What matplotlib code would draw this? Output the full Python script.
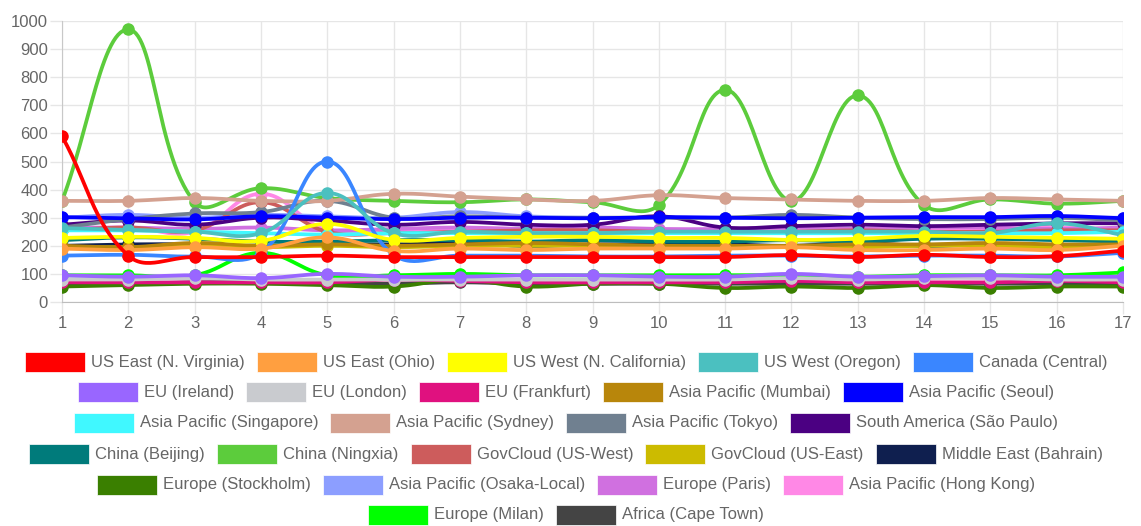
import numpy as np
import matplotlib
matplotlib.use("Agg")
import matplotlib.pyplot as plt
from matplotlib.patches import Rectangle

plt.rcParams['font.family'] = ['Liberation Sans', 'DejaVu Sans']

x_labels = list(range(1, 18))

# values per region
us_east_1 = [590, 165, 160, 160, 165, 160, 160, 160, 160, 160, 160, 167, 160, 168, 160, 163, 183]
us_east_2 = [190, 185, 195, 190, 230, 182, 190, 185, 190, 190, 190, 195, 185, 185, 190, 185, 200]
us_west_1 = [228, 232, 228, 218, 278, 221, 228, 232, 232, 228, 228, 221, 225, 235, 232, 228, 225]
us_west_2 = [263, 256, 250, 245, 388, 245, 250, 245, 245, 250, 250, 250, 250, 250, 245, 280, 238]
ca_central = [165, 168, 162, 175, 500, 168, 165, 165, 162, 162, 165, 165, 162, 165, 165, 162, 175]
eu_ireland = [95, 90, 95, 85, 100, 90, 90, 95, 95, 90, 90, 100, 90, 92, 95, 90, 90]
eu_london = [80, 80, 85, 80, 80, 80, 80, 80, 80, 80, 80, 85, 80, 85, 85, 80, 80]
eu_frankfurt = [70, 70, 70, 70, 70, 80, 75, 70, 70, 70, 70, 75, 70, 70, 70, 75, 70]
ap_mumbai = [200, 195, 210, 200, 205, 200, 205, 210, 205, 200, 200, 200, 205, 205, 210, 205, 205]
ap_seoul = [302, 298, 294, 305, 300, 295, 300, 300, 298, 302, 300, 298, 300, 302, 302, 306, 298]
ap_singapore = [255, 255, 250, 245, 240, 245, 245, 245, 245, 245, 245, 245, 245, 245, 245, 245, 250]
ap_sydney = [360, 360, 370, 360, 360, 385, 375, 365, 360, 380, 370, 365, 360, 360, 370, 365, 360]
ap_tokyo = [265, 295, 315, 320, 360, 300, 305, 300, 300, 300, 300, 310, 300, 295, 295, 300, 290]
sa_saopaulo = [275, 290, 275, 300, 290, 275, 285, 275, 275, 305, 265, 270, 275, 270, 275, 280, 280]
cn_beijing = [220, 230, 225, 215, 215, 220, 220, 215, 220, 215, 215, 220, 215, 225, 225, 220, 215]
cn_ningxia = [360, 970, 355, 405, 370, 360, 355, 365, 355, 345, 755, 360, 735, 345, 365, 350, 360]
gov_west = [255, 265, 255, 355, 250, 245, 250, 255, 255, 250, 250, 250, 255, 250, 250, 255, 255]
gov_east = [195, 195, 200, 195, 200, 195, 200, 200, 200, 195, 195, 200, 195, 200, 200, 195, 200]
me_bahrain = [200, 205, 205, 200, 205, 205, 210, 200, 205, 205, 205, 200, 210, 200, 205, 200, 205]
eu_stockholm = [55, 60, 65, 65, 60, 55, 80, 55, 65, 65, 50, 55, 50, 60, 50, 55, 55]
ap_osaka = [300, 310, 300, 310, 305, 300, 320, 305, 300, 300, 300, 300, 300, 300, 300, 300, 300]
eu_paris = [265, 265, 260, 265, 255, 260, 265, 260, 265, 260, 260, 265, 260, 265, 265, 260, 265]
ap_hongkong = [255, 265, 250, 385, 255, 250, 260, 260, 255, 250, 255, 260, 260, 255, 255, 265, 255]
eu_milan = [95, 95, 95, 175, 95, 95, 100, 95, 95, 95, 95, 95, 90, 95, 95, 95, 105]
af_capetown = [65, 65, 70, 70, 65, 65, 70, 65, 65, 65, 65, 65, 65, 65, 65, 65, 65]

names = ['US East (N. Virginia)', 'US East (Ohio)', 'US West (N. California)', 'US West (Oregon)',
         'Canada (Central)', 'EU (Ireland)', 'EU (London)', 'EU (Frankfurt)', 'Asia Pacific (Mumbai)',
         'Asia Pacific (Seoul)', 'Asia Pacific (Singapore)', 'Asia Pacific (Sydney)',
         'Asia Pacific (Tokyo)', 'South America (São Paulo)', 'China (Beijing)', 'China (Ningxia)',
         'GovCloud (US-West)', 'GovCloud (US-East)', 'Middle East (Bahrain)', 'Europe (Stockholm)',
         'Asia Pacific (Osaka-Local)', 'Europe (Paris)', 'Asia Pacific (Hong Kong)', 'Europe (Milan)',
         'Africa (Cape Town)']
series = [us_east_1, us_east_2, us_west_1, us_west_2, ca_central, eu_ireland, eu_london,
          eu_frankfurt, ap_mumbai, ap_seoul, ap_singapore, ap_sydney, ap_tokyo, sa_saopaulo,
          cn_beijing, cn_ningxia, gov_west, gov_east, me_bahrain, eu_stockholm, ap_osaka,
          eu_paris, ap_hongkong, eu_milan, af_capetown]
colors = ['#ff0000', '#ff9f40', '#ffff00', '#4bc0c0', '#3a86ff', '#9966ff', '#c9cbcf',
          '#e0117f', '#b8860b', '#0000ff', '#40f8ff', '#d4a190', '#708090', '#4b0082',
          '#007b7b', '#5ccc3c', '#cd5c5c', '#ccbb00', '#0f1f4f', '#3a7f00', '#8c9eff',
          '#d070e0', '#ff88e6', '#00ff00', '#444444']
legend_rows = [5, 5, 4, 5, 4, 2]

W, H = 1141, 526
fig = plt.figure(figsize=(W / 100, H / 100), dpi=100)
ax = fig.add_axes([62 / W, 1 - 302 / H, (1123 - 62) / W, (302 - 21) / H])

# pixel scale used by the spline (tension 0.4, like Chart.js)
sx = (1123 - 62) / 16.0
sy = (302 - 21) / 1000.0
tension = 0.4


def smooth(xs, ys):
    px = np.array(xs, float) * sx
    py = np.array(ys, float) * sy
    n = len(px)
    cp_prev = np.zeros((n, 2))
    cp_next = np.zeros((n, 2))
    for i in range(n):
        p0 = (px[max(i - 1, 0)], py[max(i - 1, 0)])
        p1 = (px[i], py[i])
        p2 = (px[min(i + 1, n - 1)], py[min(i + 1, n - 1)])
        d01 = np.hypot(p1[0] - p0[0], p1[1] - p0[1])
        d12 = np.hypot(p2[0] - p1[0], p2[1] - p1[1])
        tot = d01 + d12
        s01 = d01 / tot if tot else 0
        s12 = d12 / tot if tot else 0
        fa, fb = tension * s01, tension * s12
        cp_prev[i] = (p1[0] - fa * (p2[0] - p0[0]), p1[1] - fa * (p2[1] - p0[1]))
        cp_next[i] = (p1[0] + fb * (p2[0] - p0[0]), p1[1] + fb * (p2[1] - p0[1]))
    cp_prev[:, 1] = np.clip(cp_prev[:, 1], 0, 1000 * sy)
    cp_next[:, 1] = np.clip(cp_next[:, 1], 0, 1000 * sy)
    t = np.linspace(0, 1, 30)[:, None]
    out = []
    for i in range(n - 1):
        a = np.array([px[i], py[i]])
        b = cp_next[i]
        c = cp_prev[i + 1]
        d = np.array([px[i + 1], py[i + 1]])
        seg = (1 - t) ** 3 * a + 3 * (1 - t) ** 2 * t * b + 3 * (1 - t) * t ** 2 * c + t ** 3 * d
        out.append(seg if i == 0 else seg[1:])
    out = np.vstack(out)
    return out[:, 0] / sx, out[:, 1] / sy


n_series = len(series)
for i, (vals, col) in enumerate(zip(series, colors)):
    cx, cy = smooth(x_labels, vals)
    z = 10 + (n_series - i)
    ax.plot(cx, cy, color=col, lw=2.7, zorder=z, solid_capstyle='round')
    ax.plot(x_labels, vals, 'o', color=col, ms=8, zorder=z)

ax.set_xlim(1, 17)
ax.set_ylim(0, 1000)
ax.set_xticks(x_labels)
ax.set_yticks(range(0, 1001, 100))
ax.grid(True, color='#e6e6e6', lw=1, zorder=0)
for s in ['top', 'right']:
    ax.spines[s].set_visible(False)
ax.spines['left'].set_color('#c8c8c8')
ax.spines['bottom'].set_color('#bdbdbd')
ax.tick_params(axis='both', colors='#e6e6e6', labelcolor='#666666', labelsize=12,
               length=8.5, width=1, pad=1.5)

# legend below the chart, rows centred like Chart.js
renderer = fig.canvas.get_renderer()
row_y = [362, 392, 423, 454, 485, 515]
box_w, box_h, gap, pad = 60, 20, 6, 12
k = 0
for r, cnt in enumerate(legend_rows):
    items = []
    for j in range(cnt):
        t = fig.text(0, 0, names[k + j], fontsize=12, color='#666666', va='center', ha='left')
        w = t.get_window_extent(renderer).width
        items.append((t, w, colors[k + j]))
    total = sum(box_w + gap + w for _, w, _ in items) + pad * (cnt - 1)
    x0 = 566 - total / 2
    yc = row_y[r]
    for t, w, col in items:
        fig.patches.append(Rectangle((x0 / W, 1 - (yc + box_h / 2) / H), box_w / W, box_h / H,
                                     transform=fig.transFigure, facecolor=col,
                                     edgecolor='white', lw=0.5))
        t.set_position(((x0 + box_w + gap) / W, 1 - yc / H))
        x0 += box_w + gap + w + pad
    k += cnt

fig.savefig('out.png', dpi=100)
